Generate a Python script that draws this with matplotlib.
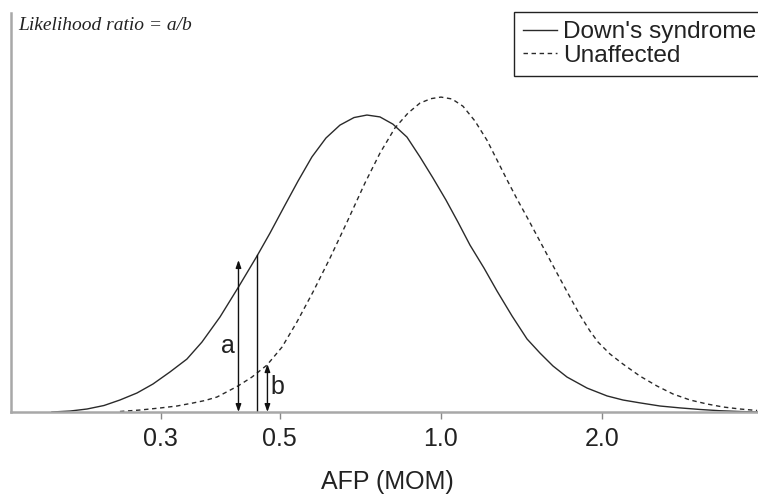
import matplotlib
matplotlib.use("Agg")
import matplotlib.pyplot as plt

# ---- data ----
downs_x = [0.188, 0.2032, 0.2186, 0.2351, 0.2518, 0.2709, 0.2902, 0.3121, 0.3357, 0.3581,
           0.3871, 0.4180, 0.4536, 0.4797, 0.5094, 0.5410, 0.5744, 0.6101, 0.6479, 0.6882,
           0.7276, 0.7694, 0.8135, 0.8640, 0.9137, 0.9662, 1.0217, 1.0757, 1.1327, 1.2030,
           1.2723, 1.3568, 1.4469, 1.5303, 1.6181, 1.7183, 1.8728, 2.0410, 2.1863, 2.3506,
           2.5625, 2.7923, 3.0426, 3.3155, 3.6130, 3.903]
downs_y = [0.000, 0.003, 0.0095, 0.0206, 0.0381, 0.0603, 0.0889, 0.127, 0.168, 0.222,
           0.302, 0.394, 0.495, 0.568, 0.651, 0.733, 0.810, 0.870, 0.911, 0.935,
           0.943, 0.937, 0.914, 0.873, 0.810, 0.743, 0.673, 0.603, 0.530, 0.457,
           0.384, 0.305, 0.232, 0.187, 0.146, 0.111, 0.076, 0.051, 0.038, 0.029,
           0.019, 0.013, 0.008, 0.004, 0.0015, 0.000]

unaff_x = [0.2518, 0.2745, 0.2990, 0.3217, 0.3446, 0.3629, 0.3821, 0.4180, 0.4440, 0.4735,
           0.5051, 0.5386, 0.5770, 0.6209, 0.6678, 0.7213, 0.7694, 0.8206, 0.8677, 0.9137,
           0.9579, 1.0000, 1.0484, 1.0990, 1.1571, 1.2184, 1.2723, 1.3281, 1.3865, 1.4469,
           1.5499, 1.6459, 1.7403, 1.8164, 1.8967, 1.9634, 2.0672, 2.1863, 2.3506, 2.5293,
           2.7097, 2.9150, 3.1356, 3.3585, 3.6130, 3.888]
unaff_y = [0.0016, 0.0063, 0.0127, 0.019, 0.0286, 0.0365, 0.0476, 0.0825, 0.111, 0.149,
           0.206, 0.286, 0.381, 0.489, 0.603, 0.727, 0.822, 0.902, 0.949, 0.981,
           0.995, 1.000, 0.994, 0.971, 0.924, 0.863, 0.800, 0.737, 0.676, 0.619,
           0.524, 0.441, 0.365, 0.308, 0.257, 0.222, 0.184, 0.152, 0.114, 0.0825,
           0.0571, 0.0381, 0.0254, 0.0159, 0.0095, 0.0048]

series_labels = ["Down's syndrome", "Unaffected"]
tick_values = [0.3, 0.5, 1.0, 2.0]
tick_labels = ["0.3", "0.5", "1.0", "2.0"]

# likelihood-ratio illustration
arrow_a_x, arrow_a_top = 0.419, 0.4825
arrow_b_x, arrow_b_top = 0.4745, 0.152
cut_x, cut_top = 0.4545, 0.498

title_text = "Likelihood ratio = a/b"
xlabel_text = "AFP (MOM)"

# ---- figure ----
W, H = 758, 494
fig = plt.figure(figsize=(W / 100, H / 100), dpi=100)
left_px, right_px, top_px, bot_px = 11, 758, 13, 412
ax = fig.add_axes([left_px / W, 1 - bot_px / H, (right_px - left_px) / W, (bot_px - top_px) / H])

sans = "Liberation Sans"
fs = 18
line_col = "#2a2a2a"

ax.plot(downs_x, downs_y, color=line_col, lw=1.0, solid_joinstyle="round",
        label=series_labels[0])
ax.plot(unaff_x, unaff_y, color=line_col, lw=1.0, linestyle=(0, (3.2, 2.6)),
        label=series_labels[1])

ax.set_xscale("log")
ax.set_xlim(0.1577, 3.903)
ax.set_ylim(0, 1.267)

ax.set_xticks(tick_values)
ax.set_xticklabels(tick_labels, fontfamily=sans, fontsize=fs, color="#222222")
ax.xaxis.set_minor_locator(matplotlib.ticker.NullLocator())
ax.tick_params(axis="x", direction="out", length=5, width=1.0, color="#888888", pad=5.5)
ax.set_yticks([])

for s in ["top", "right"]:
    ax.spines[s].set_visible(False)
for s in ["left", "bottom"]:
    ax.spines[s].set_color("#a8a8a8")
    ax.spines[s].set_linewidth(1.8)

# arrows a and b, and cut-off line
arrow_kw = dict(arrowstyle="<|-|>,head_length=0.45,head_width=0.16",
                color="#111111", lw=1.0, shrinkA=0, shrinkB=0, mutation_scale=10)
ax.annotate("", xy=(arrow_a_x, arrow_a_top), xytext=(arrow_a_x, 0), arrowprops=arrow_kw)
ax.annotate("", xy=(arrow_b_x, arrow_b_top), xytext=(arrow_b_x, 0), arrowprops=arrow_kw)
ax.plot([cut_x, cut_x], [0, cut_top], color="#111111", lw=1.0)

ax.text(0.4005, 0.21, "a", fontfamily=sans, fontsize=fs, color="#222222",
        ha="center", va="center")
ax.text(0.4955, 0.078, "b", fontfamily=sans, fontsize=fs, color="#222222",
        ha="center", va="center")

# title (italic serif)
fig.text(18 / W, 1 - 26 / H, title_text, fontfamily="Liberation Serif",
         style="italic", fontsize=14, color="#222222", ha="left", va="center")

# x label
ax.set_xlabel(xlabel_text, fontfamily=sans, fontsize=fs, color="#222222")
ax.xaxis.label.set_va("center")
ax.xaxis.set_label_coords((387 - left_px) / (right_px - left_px), -(482 - bot_px) / (bot_px - top_px))

# legend
leg = ax.legend(loc="upper left", bbox_to_anchor=(514 / W, 1 - 12 / H),
                bbox_transform=fig.transFigure, prop={"family": sans, "size": 17.6},
                frameon=True, fancybox=False, framealpha=1, edgecolor="#222222",
                borderpad=0.38, handlelength=1.36, handletextpad=0.25,
                labelspacing=0.05, borderaxespad=0)
leg.get_frame().set_linewidth(1.0)
for t in leg.get_texts():
    t.set_color("#222222")

fig.savefig("out.png", dpi=100)
